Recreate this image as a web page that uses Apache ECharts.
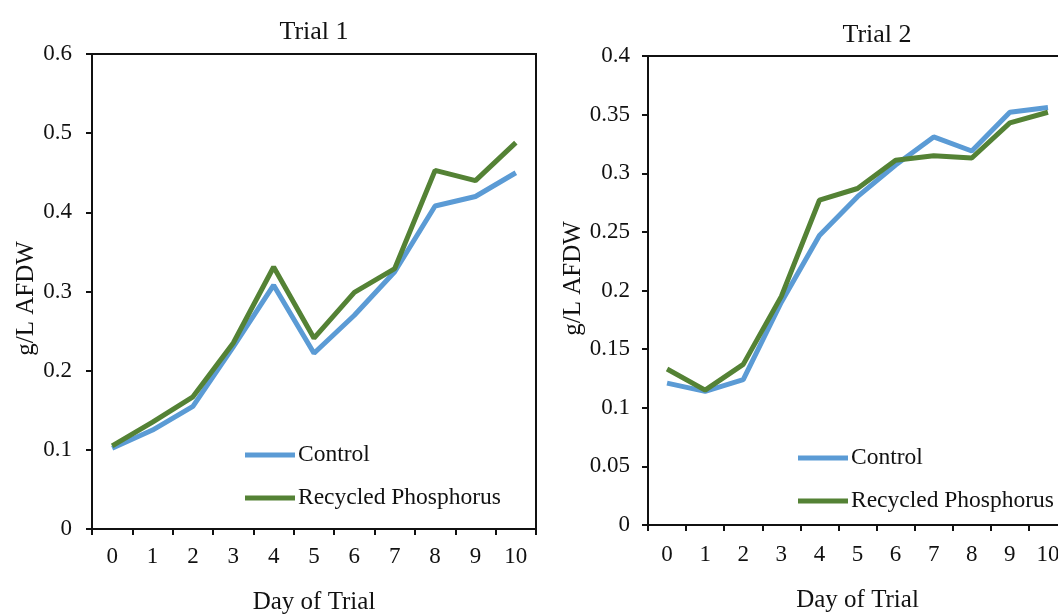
<!DOCTYPE html>
<html>
<head>
<meta charset="utf-8">
<script src="https://cdn.jsdelivr.net/npm/echarts@6/dist/echarts.min.js"></script>
<style>
html, body { margin: 0; padding: 0; background: #fff; }
#main { width: 1058px; height: 614px; }
</style>
</head>
<body>
<div id="main"></div>
<script>
// 数据
var days = ['0', '1', '2', '3', '4', '5', '6', '7', '8', '9', '10'];
var trial1Control = [0.102, 0.125, 0.155, 0.230, 0.308, 0.222, 0.270, 0.325, 0.408, 0.420, 0.450];
var trial1Recycled = [0.105, 0.135, 0.167, 0.235, 0.331, 0.241, 0.299, 0.329, 0.453, 0.440, 0.488];
var trial2Control = [0.121, 0.114, 0.124, 0.190, 0.247, 0.280, 0.307, 0.331, 0.319, 0.352, 0.356];
var trial2Recycled = [0.133, 0.115, 0.137, 0.195, 0.277, 0.287, 0.311, 0.315, 0.313, 0.343, 0.352];

var font = 'Liberation Serif, Times New Roman, serif';
var blue = '#5b9bd5';
var green = '#548235';

var myChart = echarts.init(document.getElementById('main'));

function xAxisCfg(gridIndex, gap, labelMargin) {
	return {
		type: 'category',
		gridIndex: gridIndex,
		data: days,
		boundaryGap: true,
		name: 'Day of Trial',
		nameLocation: 'middle',
		nameGap: gap,
		nameTextStyle: { color: '#111', fontSize: 25, fontFamily: font },
		axisLine: { lineStyle: { color: '#111', width: 2 } },
		axisTick: { show: true, inside: false, length: 6, alignWithLabel: false, lineStyle: { color: '#111', width: 2 } },
		axisLabel: { color: '#111', fontSize: 23, fontFamily: font, margin: labelMargin, interval: 0 },
		splitLine: { show: false }
	};
}

function yAxisCfg(gridIndex, max, interval, gap, labelMargin, namePad) {
	return {
		type: 'value',
		gridIndex: gridIndex,
		min: 0,
		max: max,
		interval: interval,
		name: 'g/L AFDW',
		nameLocation: 'middle',
		nameGap: gap,
		nameTextStyle: { color: '#111', fontSize: 25, fontFamily: font, padding: namePad },
		axisLine: { show: true, lineStyle: { color: '#111', width: 2 } },
		axisTick: { show: true, length: 6, lineStyle: { color: '#111', width: 2 } },
		axisLabel: {
			color: '#111', fontSize: 23, fontFamily: font, margin: labelMargin,
			formatter: function (v) { return String(+v.toFixed(2)); }
		},
		splitLine: { show: false }
	};
}

function lineSeries(name, data, idx, color) {
	return {
		name: name,
		type: 'line',
		xAxisIndex: idx,
		yAxisIndex: idx,
		data: data,
		symbol: 'none',
		lineStyle: { color: color, width: 5 },
		itemStyle: { color: color },
		z: name === 'Control' ? 2 : 3
	};
}

var legendBase = {
	orient: 'vertical',
	icon: 'rect',
	itemWidth: 50,
	itemHeight: 5,
	itemGap: 19,
	selectedMode: false,
	data: ['Control', 'Recycled Phosphorus'],
	textStyle: { color: '#111', fontSize: 23.5, fontFamily: font, padding: [0, 0, 0, -2] }
};

option = {
	backgroundColor: '#fff',
	animation: false,
	title: [{
		text: 'Trial 1',
		left: 309,
		top: 14,
		textAlign: 'center',
		textStyle: { color: '#111', fontSize: 26, fontWeight: 'normal', fontFamily: font }
	}, {
		text: 'Trial 2',
		left: 872,
		top: 17,
		textAlign: 'center',
		textStyle: { color: '#111', fontSize: 26, fontWeight: 'normal', fontFamily: font }
	}],
	legend: [
		Object.assign({}, legendBase, { left: 240, top: 438 }),
		Object.assign({}, legendBase, { left: 793, top: 441 })
	],
	grid: [
		{ left: 92, top: 54, width: 444, height: 475, show: true, borderColor: '#111', borderWidth: 2, outerBoundsMode: 'none' },
		{ left: 648, top: 56, width: 419, height: 469, show: true, borderColor: '#111', borderWidth: 2, outerBoundsMode: 'none' }
	],
	xAxis: [xAxisCfg(0, 61, 16), xAxisCfg(1, 63, 18)],
	yAxis: [
		yAxisCfg(0, 0.6, 0.1, 40, 20, [0, 14, 0, 0]),
		yAxisCfg(1, 0.4, 0.05, 58, 18, [0, 0, 0, 24])
	],
	series: [
		lineSeries('Control', trial1Control, 0, blue),
		lineSeries('Recycled Phosphorus', trial1Recycled, 0, green),
		lineSeries('Control', trial2Control, 1, blue),
		lineSeries('Recycled Phosphorus', trial2Recycled, 1, green)
	]
};

myChart.setOption(option);
</script>
</body>
</html>
